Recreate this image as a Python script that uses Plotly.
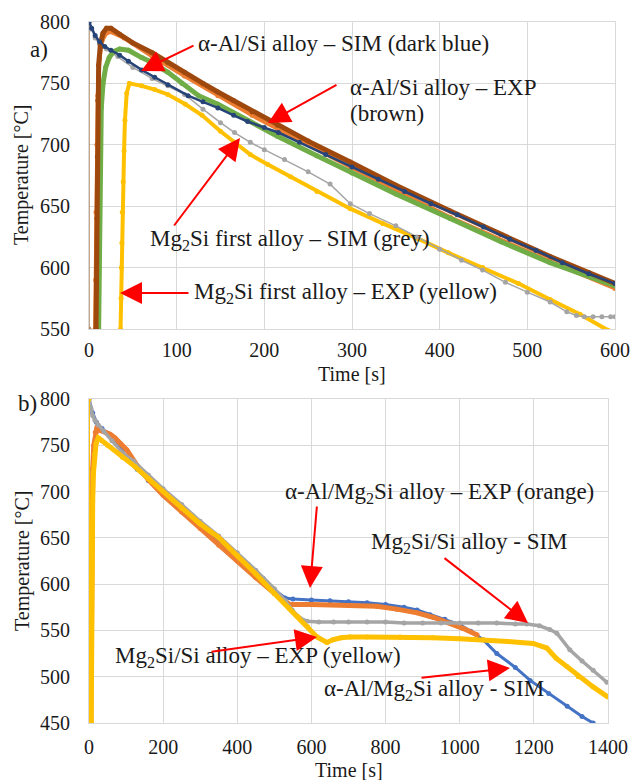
import plotly.graph_objects as go

W, H = 644, 780

# ---------------- Panel a) data (time [s], temperature [°C]) ----------------
a_tan_t = [0, 0]
a_tan_T = [800, 550]

a_yellow_exp_t = [36, 36.5, 37, 37.5, 38, 39, 40, 41, 43, 46, 60, 75, 90, 110, 129, 150, 166, 184,
                  204, 230, 260, 298, 335, 374, 410, 449, 490, 526, 560, 592]
a_yellow_exp_T = [550, 575, 600, 620, 645, 670, 695, 720, 742, 750, 748, 745, 741, 733, 724, 711, 702, 692,
                  684, 674, 662, 648, 636, 624, 612, 600, 587, 574, 562, 549]

a_grey_sim_t = [0, 3, 7, 12, 20, 33, 50, 72, 90, 109, 130, 150, 166, 184, 200, 223, 250, 275, 298, 320,
                350, 374, 400, 425, 449, 475, 500, 526, 545, 556, 565, 575, 585, 595, 600]
a_grey_sim_T = [800, 794, 787, 782, 778, 772, 763, 754, 748, 741, 729, 718, 710, 702, 696, 688, 678, 668, 652, 644,
                634, 625, 615, 606, 598, 588, 580, 572, 564, 561, 560, 560, 560, 560, 560]

a_orange_exp_t = [7, 7.5, 8, 9, 10, 12, 15, 20, 25, 40, 72, 109, 147, 186, 215, 298, 412, 526, 600]
a_orange_exp_T = [550, 590, 645, 700, 740, 770, 785, 791, 792, 787, 772, 756, 740, 724, 713, 682, 641, 605, 583]

a_green_exp_t = [11, 11.5, 12, 13, 14, 16, 19, 23, 28, 35, 45, 60, 72, 90, 106, 125, 147, 180, 215, 260,
                 300, 350, 412, 470, 526, 600]
a_green_exp_T = [550, 600, 647, 701, 730, 750, 763, 771, 776, 778, 777, 771, 767, 759, 750, 740, 733, 720, 707, 691,
                 677, 660, 640, 621, 604, 585]

a_brown_exp_t = [8, 8.5, 9, 9.5, 10, 11, 13, 16, 20, 25, 35, 50, 72, 90, 109, 130, 147, 165, 186, 215,
                 250, 298, 350, 412, 470, 526, 570, 600]
a_brown_exp_T = [550, 590, 640, 690, 736, 765, 782, 791, 795, 795, 790, 783, 775, 767, 759, 750, 743, 736, 727, 716,
                 703, 686, 667, 646, 627, 609, 596, 587]

a_blue_sim_t = [0, 3, 7, 12, 18, 25, 35, 45, 60, 75, 90, 113, 130, 147, 165, 181, 200, 216, 240, 270, 300,
                330, 360, 390, 420, 450, 480, 510, 540, 570, 600]
a_blue_sim_T = [800, 795, 789, 784, 780, 777, 773, 768, 761, 755, 749, 740, 735, 730, 724, 719, 714, 710, 702, 692, 682,
                672, 662, 652, 643, 633, 623, 614, 604, 595, 587]

# ---------------- Panel b) data ----------------
b_blue_sim_t = [0, 10, 20, 35, 50, 70, 90, 106, 130, 160, 190, 213, 250, 290, 330, 360, 394, 430, 470, 500, 529,
                550, 600, 650, 700, 750, 800, 850, 885, 920, 960, 1001, 1030, 1063, 1100, 1150, 1190, 1240, 1290,
                1330, 1360]
b_blue_sim_T = [800, 785, 775, 768, 763, 756, 744, 734, 724, 712, 701, 694, 681, 667, 653, 643, 633, 621, 606, 594, 585,
                584, 583, 582, 581, 580, 578, 575, 572, 567, 562, 556, 549, 540, 525, 510, 496, 482, 468,
                457, 450]

b_orange_exp_t = [5, 5.5, 6, 7, 8, 10, 13, 17, 21, 30, 45, 57, 70, 85, 102, 130, 160, 200, 250, 300, 350, 400,
                  450, 500, 529, 542, 600, 700, 776, 830, 885, 930, 974, 1010, 1047]
b_orange_exp_T = [450, 520, 600, 650, 690, 725, 750, 764, 768, 766, 764, 762, 758, 752, 745, 728, 713, 696, 678, 660,
                  642, 625, 607, 590, 581, 578, 578, 577, 576, 573, 569, 564, 558, 552, 545]

b_grey_sim_t = [0, 5, 10, 16, 25, 40, 62, 90, 120, 160, 200, 250, 300, 350, 400, 450, 500, 530, 548, 570, 588,
                620, 660, 700, 750, 800, 850, 900, 950, 1000, 1050, 1100, 1150, 1181, 1215, 1243, 1262, 1297,
                1330, 1360, 1397]
b_grey_sim_T = [800, 790, 782, 777, 772, 765, 755, 742, 733, 718, 703, 686, 668, 652, 634, 615, 595, 582, 572, 563, 560,
                559, 559, 559, 559, 559, 558, 558, 558, 558, 558, 558, 557, 557, 555, 551, 547, 529,
                517, 507, 494]

b_yellow_exp_t = [6, 6.5, 7, 8, 9, 10, 12, 15, 19, 25, 35, 50, 90, 124, 160, 200, 250, 300, 348, 400, 450, 500,
                  540, 564, 590, 615, 642, 658, 680, 704, 750, 839, 928, 1000, 1063, 1130, 1198, 1235, 1260,
                  1289, 1320, 1360, 1400]
b_yellow_exp_T = [450, 518, 546, 607, 650, 690, 720, 740, 752, 758, 755, 750, 737, 727, 714, 700, 682, 665, 651, 631,
                  611, 590, 574, 565, 554, 543, 537, 540, 542, 543, 543, 543, 542, 541, 540, 538, 536, 531, 520,
                  511, 500, 489, 478]

b_yellow_vert_t = [0, 0]
b_yellow_vert_T = [800, 450]

# tick values
a_xticks = [0, 100, 200, 300, 400, 500, 600]
a_yticks = [550, 600, 650, 700, 750, 800]
b_xticks = [0, 200, 400, 600, 800, 1000, 1200, 1400]
b_yticks = [450, 500, 550, 600, 650, 700, 750, 800]

# colours
C_BLUE_DARK = "#264478"
C_BLUE = "#4472C4"
C_BROWN = "#9E480E"
C_ORANGE = "#ED7D31"
C_GREEN = "#70AD47"
C_GREY = "#A5A5A5"
C_YELLOW = "#FFC000"
C_TAN = "#B5875F"

FONT = "'Liberation Serif', 'Times New Roman', 'DejaVu Serif', serif"
TXT = "#1a1a1a"


def px(x):
    return x / W


def py(y):
    return 1 - y / H


fig = go.Figure()


def add(t, T, color, width, msize, xa, ya, mode="lines+markers"):
    fig.add_trace(go.Scatter(x=t, y=T, mode=mode, xaxis=xa, yaxis=ya,
                             line=dict(color=color, width=width),
                             marker=dict(color=color, size=msize),
                             showlegend=False, hoverinfo="x+y"))


# panel a
add(a_tan_t, a_tan_T, C_TAN, 1.5, 5, "x", "y")
add(a_yellow_exp_t, a_yellow_exp_T, C_YELLOW, 4, 5, "x", "y")
add(a_grey_sim_t, a_grey_sim_T, C_GREY, 1.5, 5, "x", "y")
add(a_orange_exp_t, a_orange_exp_T, C_ORANGE, 4, 5, "x", "y")
add(a_green_exp_t, a_green_exp_T, C_GREEN, 5, 5, "x", "y")
add(a_brown_exp_t, a_brown_exp_T, C_BROWN, 5, 5, "x", "y")
add(a_blue_sim_t, a_blue_sim_T, C_BLUE_DARK, 2.5, 5, "x", "y")

# panel b
add(b_blue_sim_t, b_blue_sim_T, C_BLUE, 3, 5, "x2", "y2")
add(b_orange_exp_t, b_orange_exp_T, C_ORANGE, 5, 5, "x2", "y2")
add(b_grey_sim_t, b_grey_sim_T, C_GREY, 3.5, 5, "x2", "y2")
add(b_yellow_exp_t, b_yellow_exp_T, C_YELLOW, 5, 5, "x2", "y2")
add(b_yellow_vert_t, b_yellow_vert_T, C_YELLOW, 2, 5, "x2", "y2")

axis_common = dict(showgrid=True, gridcolor="#D9D9D9", gridwidth=1, zeroline=False,
                   showline=True, linecolor="#D9D9D9", linewidth=1, mirror=True,
                   automargin=False,
                   ticks="", tickfont=dict(family=FONT, size=20, color=TXT))

fig.update_layout(
    width=W, height=H,
    margin=dict(l=0, r=0, t=0, b=0),
    paper_bgcolor="white", plot_bgcolor="white",
    font=dict(family=FONT, color=TXT),
    xaxis=dict(domain=[px(89), px(615)], anchor="y", range=[0, 600], tickvals=a_xticks,
               ticklabelstandoff=3, **axis_common),
    yaxis=dict(domain=[py(329), py(22)], anchor="x", range=[550, 800], tickvals=a_yticks,
               ticklabelstandoff=14, **axis_common),
    xaxis2=dict(domain=[px(89), px(608)], anchor="y2", range=[0, 1400], tickvals=b_xticks,
                ticklabelstandoff=6, **axis_common),
    yaxis2=dict(domain=[py(723), py(399)], anchor="x2", range=[450, 800], tickvals=b_yticks,
                ticklabelstandoff=14, **axis_common),
)

ann_font = dict(family=FONT, size=23, color=TXT)
title_font = dict(family=FONT, size=20, color=TXT)


def label(text, x, y, xanchor="left", font=ann_font, angle=0):
    fig.add_annotation(text=text, x=px(x), y=py(y), xref="paper", yref="paper",
                       xanchor=xanchor, yanchor="middle", showarrow=False, align="left",
                       font=font, textangle=angle)


def arrow(tail, tip):
    fig.add_annotation(text="", x=px(tip[0]), y=py(tip[1]), xref="paper", yref="paper",
                       ax=tail[0] - tip[0], ay=tail[1] - tip[1], axref="pixel", ayref="pixel",
                       showarrow=True, arrowhead=2, arrowsize=2.2, arrowwidth=2,
                       arrowcolor="#FF0000")


# axis titles
label("Time [s]", 352, 374, "center", title_font)
label("Temperature [°C]", 22, 175, "center", title_font, -90)
label("Time [s]", 349, 770, "center", title_font)
label("Temperature [°C]", 22, 561, "center", title_font, -90)

# panel a labels
label("a)", 39, 49, "center")
label("α-Al/Si alloy – SIM (dark blue)", 196, 43)
arrow((195, 45), (141, 71))
label("α-Al/Si alloy – EXP", 348, 87)
label("(brown)", 348, 113)
arrow((338, 84), (268, 123))
label("Mg<sub>2</sub>Si first alloy – SIM (grey)", 148, 240)
arrow((173, 227), (240, 138))
label("Mg<sub>2</sub>Si first alloy – EXP (yellow)", 192, 293)
arrow((190, 293), (120, 293))

# panel b labels
label("b)", 27, 403, "center")
label("α-Al/Mg<sub>2</sub>Si alloy – EXP (orange)", 283, 493)
arrow((317, 505), (310, 588))
label("Mg<sub>2</sub>Si/Si alloy - SIM", 369, 543)
arrow((443, 557), (528, 623))
label("Mg<sub>2</sub>Si/Si alloy – EXP (yellow)", 113, 657)
arrow((210, 652), (317, 637))
label("α-Al/Mg<sub>2</sub>Si alloy - SIM", 322, 690)
arrow((420, 678), (510, 668))

fig.write_html("out.html")
